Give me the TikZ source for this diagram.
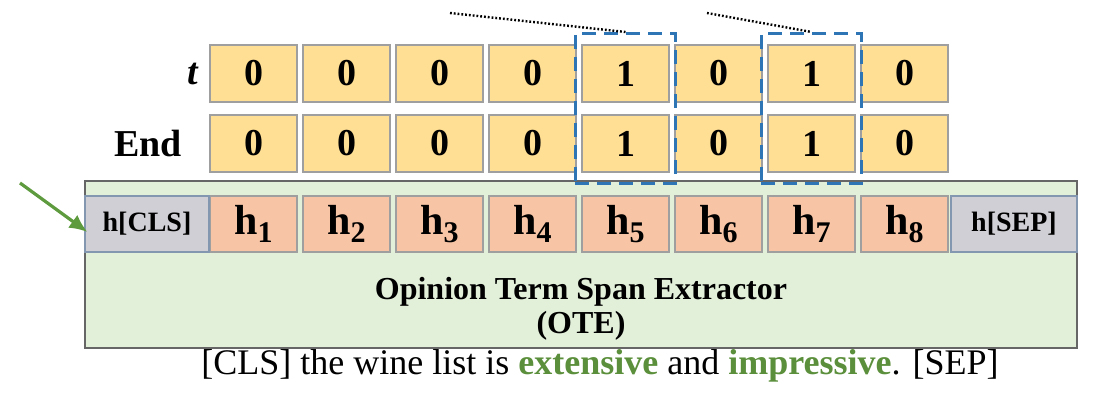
\documentclass[tikz,border=0pt]{standalone}
\usepackage{fontspec}
\setmainfont{Liberation Serif}
\usepackage{xcolor}
\usepackage{tikz}
\usetikzlibrary{arrows.meta,positioning,calc,fit}
\definecolor{cellY}{HTML}{FFDF93}
\definecolor{cellH}{HTML}{F7C4A5}
\definecolor{cellG}{HTML}{CFCFD5}
\definecolor{tokB}{HTML}{8497B0}
\definecolor{oteG}{HTML}{E2EFD9}
\definecolor{spanB}{HTML}{2E75B6}
\definecolor{termG}{HTML}{5B8F3B}
\definecolor{arrG}{HTML}{5E9A3E}
\newcommand{\hsub}[1]{\textbf{h\raisebox{-0.45ex}{\fontsize{15}{15}\selectfont #1}}}
\tikzset{
  cell/.style={rectangle, draw=gray!75, line width=0.6pt, fill=#1, inner sep=0pt,
               minimum width=43.5pt, minimum height=28.5pt, font=\fontsize{19}{19}\selectfont\bfseries},
  hcell/.style={cell=#1, minimum height=28pt, font=\fontsize{21}{21}\selectfont},
  tokcell/.style={cell=cellG, draw=tokB, minimum height=28pt, font=\fontsize{14}{14}\selectfont\bfseries},
  rowlbl/.style={font=\fontsize{19}{19}\selectfont\bfseries, inner sep=0pt},
  otebox/.style={rectangle, draw=gray!80!black, line width=0.9pt, fill=oteG,
                 minimum width=496pt, minimum height=83.5pt},
  spanbox/.style={draw=spanB, line width=1.4pt, dash pattern=on 7pt off 4pt, inner xsep=3pt, inner ysep=5.5pt},
  dotline/.style={line width=1.2pt, dash pattern=on 0.9pt off 1pt},
}
\begin{document}
\begin{tikzpicture}[x=0.5pt, y=-0.5pt, node distance=3pt]
    \useasboundingbox (0,0) rectangle (1104,395);
    % extractor block
    \node[otebox] (ote) at (581,264.5) {};
    \node[align=center, font=\fontsize{16}{17}\selectfont\bfseries] (otelbl) at (581,309)
      {Opinion Term Span Extractor\\(OTE)};
    % tags and hidden states
    \foreach \v [count=\i] in {0,0,0,0,1,0,1,0} {
      \node[cell=cellY] (t\i) at ({253.5+93*(\i-1)},73.5) {\v};
      \node[cell=cellY] (e\i) at ({253.5+93*(\i-1)},143.5) {\v};
      \node[hcell=cellH] (h\i) at ({253.5+93*(\i-1)},224) {\hsub{\i}};
    }
    \node[tokcell, minimum width=62pt] (cls) at (147,224) {h[CLS]};
    \node[tokcell, minimum width=63pt] (sep) at (1014,224) {h[SEP]};
    \node[rowlbl, left=5pt of t1] (tlbl) {\textit{t}};
    \node[rowlbl, left=13.5pt of e1] (elbl) {End};
    % spans
    \node[spanbox, fit=(t5)(e5)] (span5) {};
    \node[spanbox, fit=(t7)(e7)] (span7) {};
    \coordinate (d5) at (450,13);
    \coordinate (d7) at (707,13);
    \draw[dotline] (d5) -- (span5.north);
    \draw[dotline] (d7) -- (span7.north);
    \coordinate (a0) at (20,183);
    \draw[-{Latex[length=9pt,width=8pt]}, line width=1.6pt, draw=arrG] (a0) -- ($(cls.west)+(3,8)$);
    % input sentence
    \node[font=\fontsize{18}{18}\selectfont, inner sep=0pt] (sent) at (600,366)
      {[CLS] the wine list is \textcolor{termG}{\textbf{extensive}} and \textcolor{termG}{\textbf{impressive}}. [SEP]};
  \end{tikzpicture}
\end{document}
